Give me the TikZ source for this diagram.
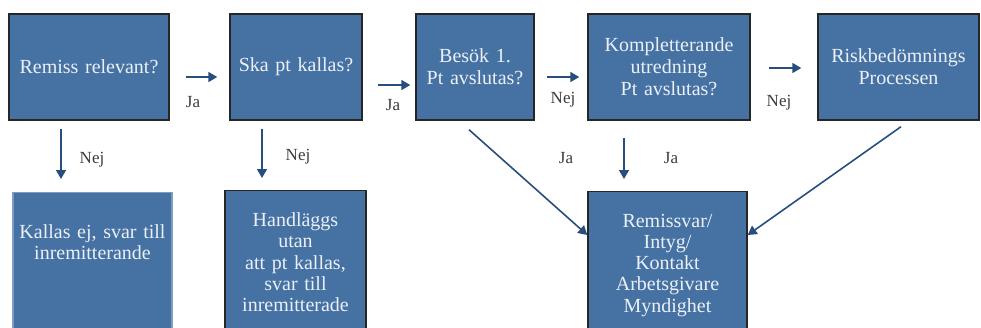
\documentclass[tikz,border=0pt]{standalone}
\usepackage{fontspec}
\setmainfont{Liberation Serif}
\usetikzlibrary{arrows.meta}
\definecolor{boxfill}{RGB}{69,114,163}
\definecolor{boxtext}{RGB}{236,240,246}
\definecolor{flowblue}{RGB}{40,78,125}
\definecolor{lblgray}{RGB}{60,60,60}
\tikzset{
    stepbox/.style={draw=black!85, line width=0.7pt, fill=boxfill, text=boxtext, align=center, inner sep=0pt, font=\fontsize{10}{11}\selectfont},
    endbox/.style={stepbox, anchor=north, font=\fontsize{10}{10.6}\selectfont, text depth=80pt},
    flow/.style={draw=flowblue, line width=0.8pt, -{Triangle[length=4.5pt,width=5pt]}},
    lbl/.style={text=lblgray, font=\fontsize{8.5}{10}\selectfont, inner sep=0pt}
}

\begin{document}
\begin{tikzpicture}[x=0.5pt,y=-0.5pt]
            \useasboundingbox (0,0) rectangle (981,327);
            \clip (0,0) rectangle (981,327);

            \node[stepbox, minimum width=80pt, minimum height=53pt, text width=78pt] (remiss) at (89,67) {Remiss relevant?};
            \node[stepbox, minimum width=66pt, minimum height=53pt, text width=64pt] (ska) at (296,67) {Ska pt kallas?};
            \node[stepbox, minimum width=59pt, minimum height=53pt, text width=57pt] (besok) at (475,67) {Besök 1.\\Pt avslutas?};
            \node[stepbox, minimum width=81pt, minimum height=53pt, text width=79pt] (komplett) at (669,67) {Kompletterande\\utredning\\Pt avslutas?};
            \node[stepbox, minimum width=80.5pt, minimum height=53pt, text width=78pt] (risk) at (898.5,67) {Riskbedömnings\\Processen};

            \node[endbox, draw=boxfill!70!white, minimum width=79.5pt, text width=77pt, text height=22.75pt] (kallasej) at (92.5,192) {Kallas ej, svar till\\inremitterande};
            \node[endbox, minimum width=70.5pt, text width=68pt, text height=18pt] (handlaggs) at (295.5,190) {Handläggs\\utan\\att pt kallas,\\svar till\\inremitterade};
            \node[endbox, minimum width=79.5pt, text width=77pt, text height=17.75pt] (svar) at (667.5,191) {Remissvar/\\Intyg/\\Kontakt\\Arbetsgivare\\Myndighet};

            \draw[flow, shorten <=8pt, shorten >=6pt] ([yshift=-5pt]remiss.east) -- ([yshift=-5pt]ska.west);
            \draw[flow, shorten <=7.5pt, shorten >=2.5pt] ([yshift=-9pt]ska.east) -- ([yshift=-9pt]besok.west);
            \draw[flow, shorten <=6pt, shorten >=4pt] ([yshift=-5pt]besok.east) -- ([yshift=-5pt]komplett.west);
            \draw[flow, shorten <=9pt, shorten >=8pt] ([yshift=-0.5pt]komplett.east) -- ([yshift=-0.5pt]risk.west);

            \draw[flow, shorten <=4pt, shorten >=6.5pt] ([xshift=-14pt]remiss.south) -- ([xshift=-14pt]remiss.south |- kallasej.north);
            \draw[flow, shorten <=4pt, shorten >=6pt] ([xshift=-17pt]ska.south) -- ([xshift=-17pt]ska.south |- handlaggs.north);
            \draw[flow, shorten <=8.5pt, shorten >=6pt] ([xshift=-22.5pt]komplett.south) -- ([xshift=-22.5pt]komplett.south |- svar.north);
            \draw[flow] ([xshift=-3pt,yshift=-4.5pt]besok.south) -- ([yshift=-22pt]svar.north west);
            \draw[flow] ([xshift=1.25pt,yshift=-3pt]risk.south) -- ([yshift=-22pt]svar.north east);

            \node[lbl] (ja1) at (193,102) {Ja};
            \node[lbl] (ja2) at (393,105) {Ja};
            \node[lbl] (nej1) at (563,100) {Nej};
            \node[lbl] (nej2) at (779,103) {Nej};
            \node[lbl] (nej3) at (92,160) {Nej};
            \node[lbl] (nej4) at (298,157) {Nej};
            \node[lbl] (ja3) at (566,158) {Ja};
            \node[lbl] (ja4) at (671,158) {Ja};
\end{tikzpicture}
\end{document}
